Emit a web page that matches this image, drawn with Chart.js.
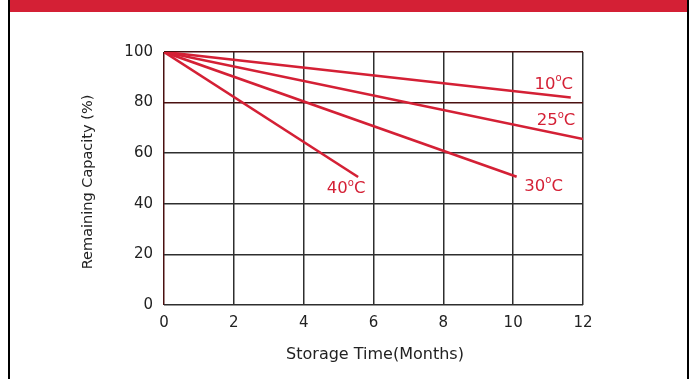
<!DOCTYPE html>
<html><head><meta charset="utf-8">
<script src="https://cdn.jsdelivr.net/npm/chart.js@4"></script>
<style>html,body{margin:0;padding:0;background:#fff;}#wrap{width:697px;height:379px;position:relative;}</style>
</head><body><div id="wrap"><canvas id="c" width="697" height="379"></canvas></div>
<script>
const seriesNames = ['10°C','25°C','30°C','40°C'];
const months10 = [0, 11.65]; const cap10 = [100, 82];
const months25 = [0, 12];    const cap25 = [100, 65.6];
const months30 = [0, 10.1];  const cap30 = [100, 50.7];
const months40 = [0, 5.56];  const cap40 = [100, 50.6];
const xTicks = [0,2,4,6,8,10,12];
const yTicks = [0,20,40,60,80,100];
const xTitle = 'Storage Time(Months)';
const yTitle = 'Remaining Capacity (%)';

const RED = '#d42035';
const FAM = '"DejaVu Sans", Arial, sans-serif';
function pts(xs, ys){ return xs.map((x,i)=>({x:x,y:ys[i]})); }
const labelOffsets = [[-17,-13],[-27,-18],[27,10],[-12,12]];

const deco = {
  id:'deco',
  beforeDraw(chart){
    const ctx = chart.ctx;
    ctx.save();
    ctx.fillStyle = '#fff'; ctx.fillRect(0,0,697,379);
    ctx.fillStyle = '#d42035'; ctx.fillRect(9,0,680,12);
    ctx.fillStyle = '#000';
    ctx.fillRect(8,0,2,379); ctx.fillRect(687,0,2,379);
    ctx.restore();
  },
  afterDraw(chart){
    const ctx = chart.ctx;
    const xs = chart.scales.x, ys = chart.scales.y;
    ctx.save();
    ctx.fillStyle = '#222';
    ctx.font = '16px ' + FAM;
    ctx.textAlign = 'center'; ctx.textBaseline = 'middle';
    ctx.fillText(xTitle, 375, 355);
    ctx.translate(88, 182); ctx.rotate(-Math.PI/2);
    ctx.font = '14.5px ' + FAM;
    ctx.fillText(yTitle, 0, 0);
    ctx.restore();
    ctx.save();
    ctx.fillStyle = RED; ctx.textBaseline = 'middle';
    chart.data.datasets.forEach((ds,i)=>{
      const last = ds.data[ds.data.length-1];
      const px = xs.getPixelForValue(last.x) + labelOffsets[i][0];
      const py = ys.getPixelForValue(last.y) + labelOffsets[i][1];
      const name = seriesNames[i];
      const num = name.replace('°C','');
      ctx.font = '16.5px ' + FAM;
      const w1 = ctx.measureText(num).width;
      const w3 = ctx.measureText('C').width;
      ctx.font = '10px ' + FAM;
      const w2 = ctx.measureText('o').width;
      const total = w1+w2+w3;
      let x0 = px - total/2;
      ctx.textAlign = 'left';
      ctx.font = '16.5px ' + FAM;
      ctx.fillText(num, x0, py);
      ctx.font = '10px ' + FAM;
      ctx.fillText('o', x0+w1, py-6);
      ctx.font = '16.5px ' + FAM;
      ctx.fillText('C', x0+w1+w2, py);
    });
    ctx.restore();
  }
};

const datasets = [
  pts(months10,cap10), pts(months25,cap25), pts(months30,cap30), pts(months40,cap40)
].map((d,i)=>({label:seriesNames[i], data:d, borderColor:RED, borderWidth:2.6, pointRadius:0, fill:false, showLine:true}));

new Chart(document.getElementById('c'), {
  type:'scatter',
  data:{datasets:datasets},
  options:{
    responsive:false, animation:false, devicePixelRatio:1,
    layout:{padding:{top:52,right:114,left:0,bottom:0}},
    plugins:{legend:{display:false},tooltip:{enabled:false}},
    scales:{
      x:{type:'linear',min:0,max:12,
        afterBuildTicks(s){ s.ticks = xTicks.map(v=>({value:v})); },
        afterFit(s){ s.height = 74; },
        border:{display:false},
        grid:{drawTicks:false, lineWidth:1.5, color:(c)=> c.tick && c.tick.value===0 ? '#4a1010' : '#2e2e2e'},
        ticks:{padding:9,color:'#222',font:{family:FAM,size:15},maxRotation:0}
      },
      y:{type:'linear',min:0,max:100,
        afterBuildTicks(s){ s.ticks = yTicks.map(v=>({value:v})); },
        afterFit(s){ s.width = 164; },
        border:{display:false},
        grid:{drawTicks:false, lineWidth:1.5, color:(c)=> (c.tick && (c.tick.value===80||c.tick.value===100)) ? '#4a1010' : '#2e2e2e'},
        ticks:{padding:11,color:'#222',font:{family:FAM,size:15}}
      }
    }
  },
  plugins:[deco]
});
</script></body></html>
